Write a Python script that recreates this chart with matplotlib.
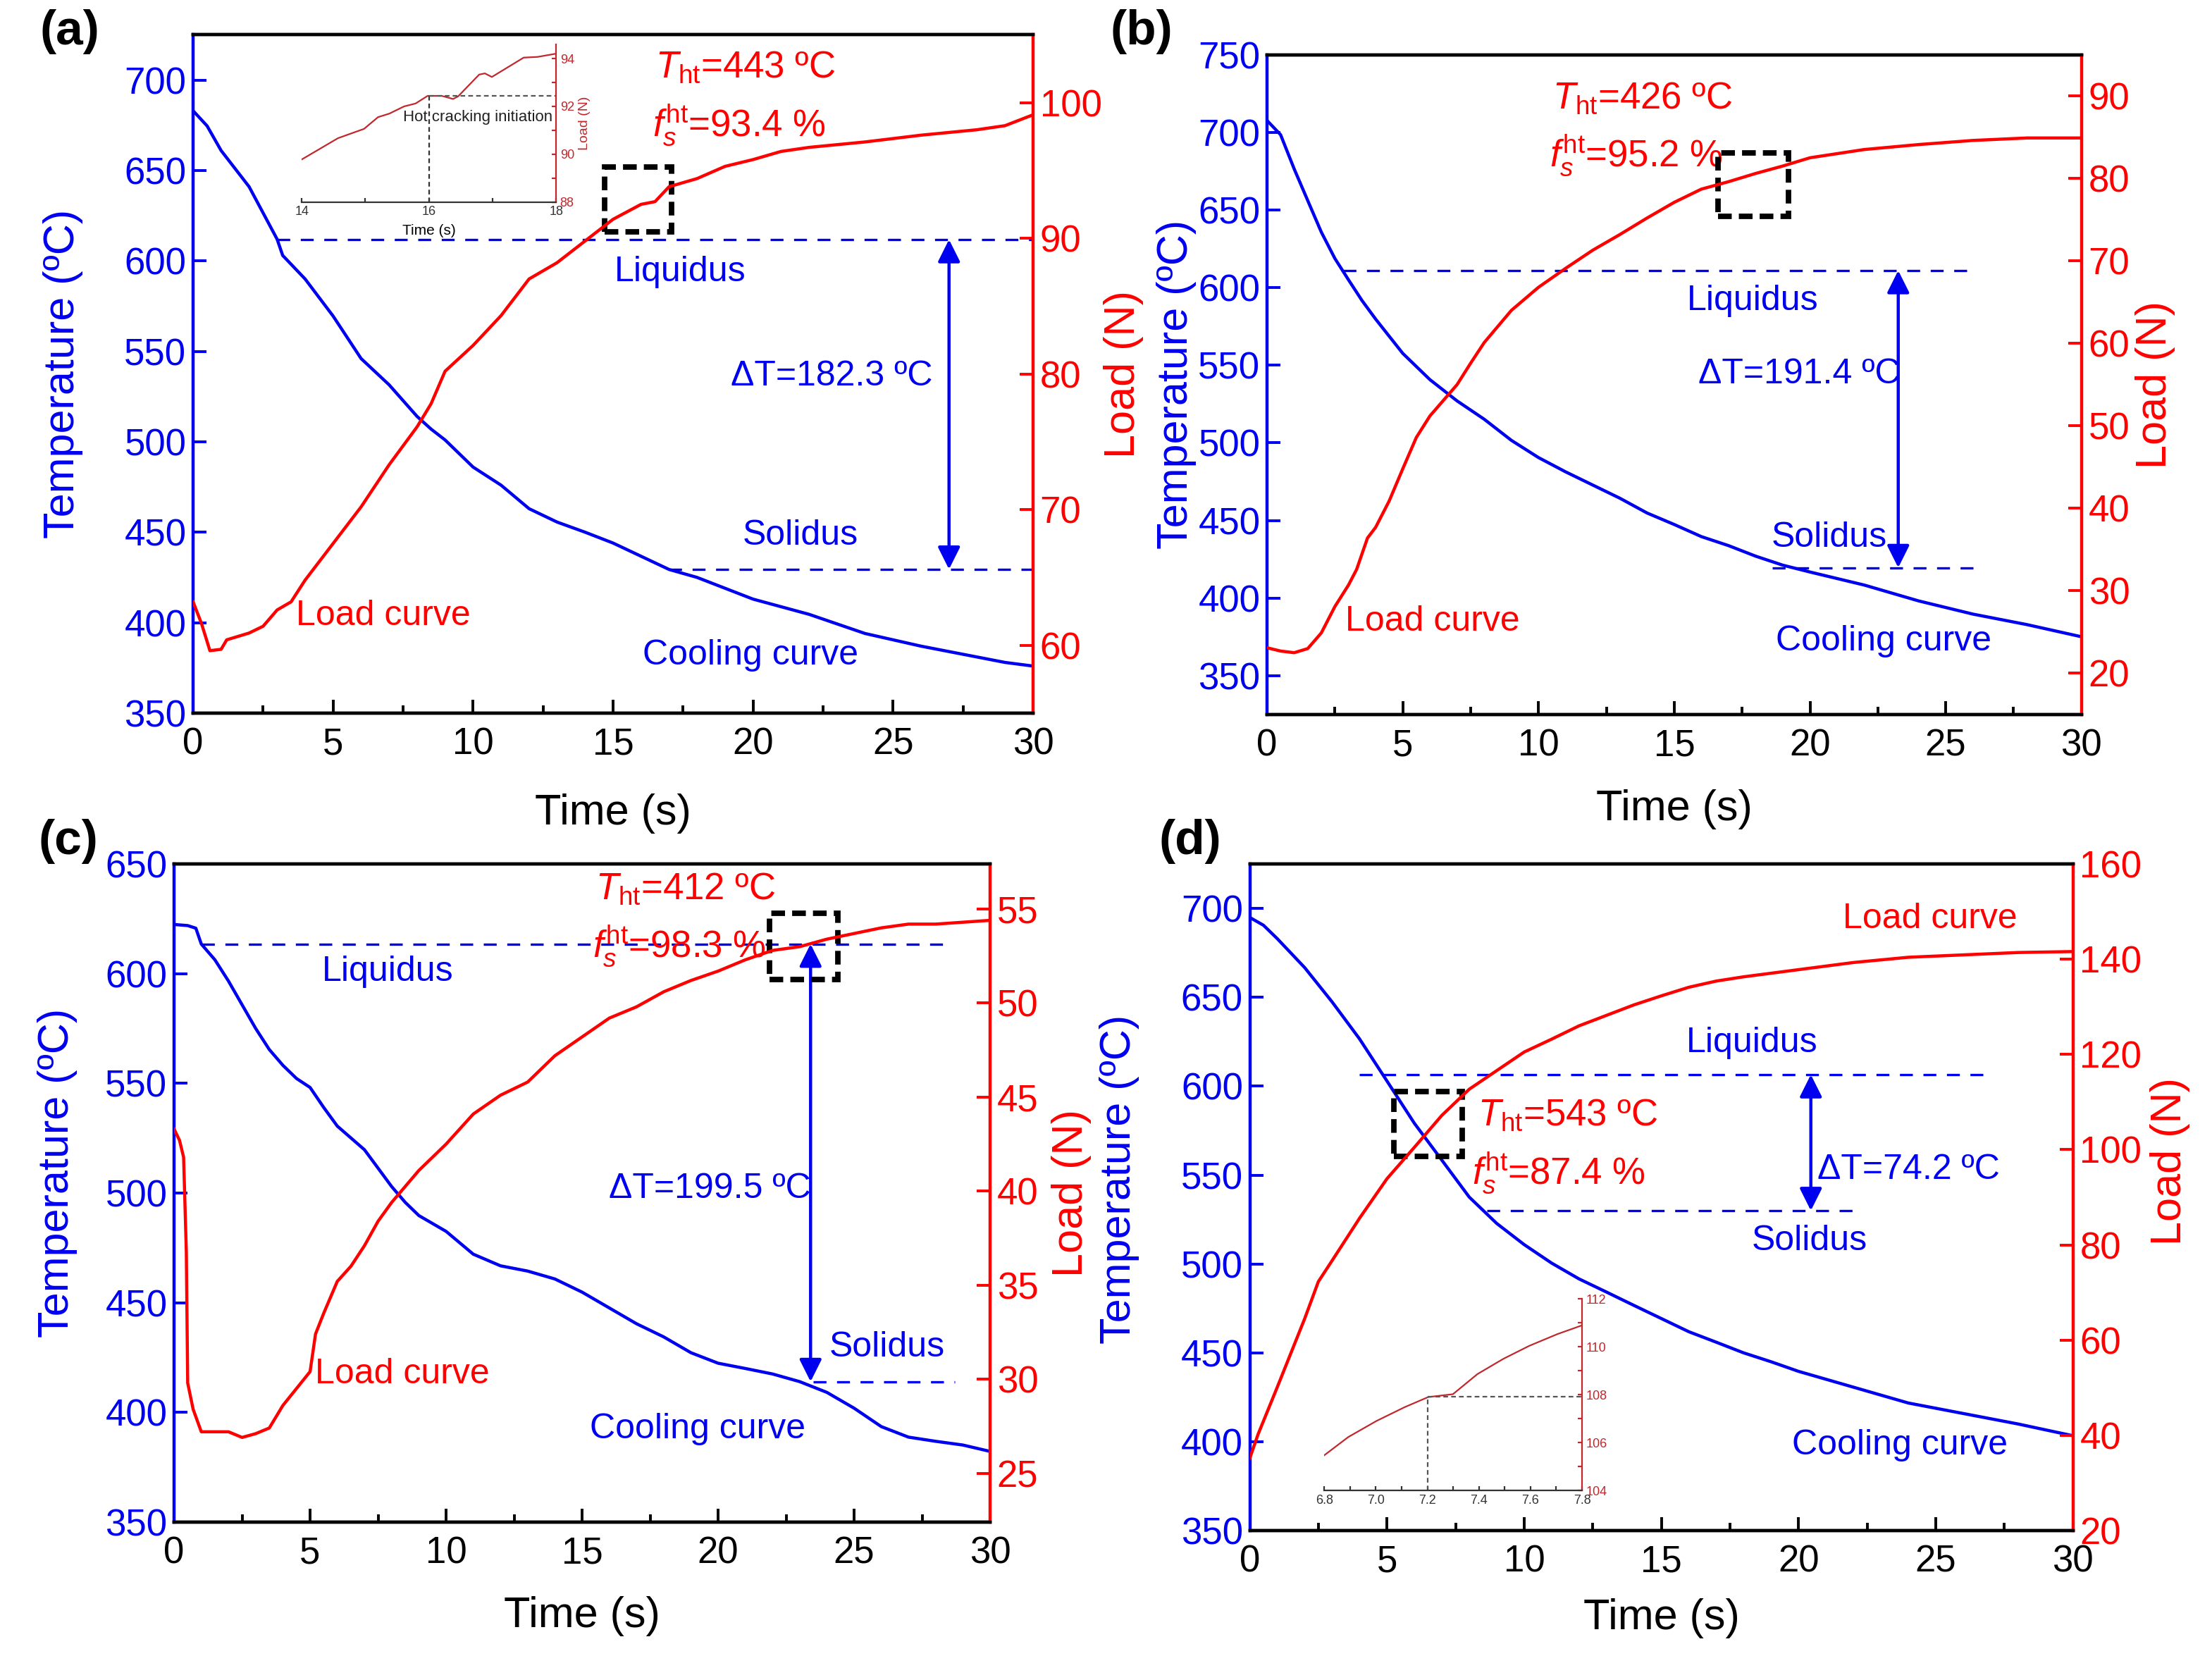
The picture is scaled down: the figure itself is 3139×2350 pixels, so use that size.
import matplotlib
matplotlib.use('Agg')
import matplotlib.pyplot as plt
from matplotlib.patches import Rectangle
from matplotlib.ticker import MultipleLocator

plt.rcParams['font.family'] = ['Liberation Sans', 'DejaVu Sans']
plt.rcParams['mathtext.fontset'] = 'custom'
plt.rcParams['mathtext.rm'] = 'Liberation Sans'
plt.rcParams['mathtext.it'] = 'Liberation Sans:italic'

# ---- panel (a) ----
a_t_temp = [0, 0.5, 1, 2, 3, 3.2, 4, 5, 6, 7, 8, 8.5, 9, 10, 11, 12, 13, 14, 15, 16, 17, 18, 20, 22, 24, 26, 28, 29, 30]
a_temp = [683, 674.6, 661, 641, 612, 603, 590, 569.5, 546, 531.5, 514, 507, 501, 486, 476, 463, 455.6, 450, 444,
          436.7, 429.4, 425, 413, 404.6, 394, 387, 381, 378, 376]
a_t_load = [0, 0.3, 0.6, 1.0, 1.2, 2, 2.5, 3, 3.5, 4, 5, 6, 7, 8, 8.5, 9, 10, 11, 12, 13, 14, 15, 16, 16.5, 17, 18,
            19, 20, 21, 22, 24, 26, 28, 29, 30]
a_load = [63.2, 61.6, 59.6, 59.7, 60.4, 60.9, 61.4, 62.6, 63.2, 64.8, 67.5, 70.2, 73.3, 76.1, 77.8, 80.2, 82.1, 84.3,
          87.0, 88.2, 89.8, 91.4, 92.5, 92.7, 93.8, 94.4, 95.3, 95.8, 96.4, 96.7, 97.1, 97.6, 98.0, 98.3, 99.1]
a_ins_t = [14.0, 14.57, 14.98, 15.2, 15.38, 15.61, 15.79, 15.98, 16.2, 16.38, 16.46, 16.79, 16.88, 16.99, 17.49, 17.71, 17.99]
a_ins_load = [89.78, 90.67, 91.06, 91.55, 91.70, 92.0, 92.12, 92.44, 92.44, 92.31, 92.42, 93.33, 93.38, 93.23, 94.04, 94.07, 94.2]

# ---- panel (b) ----
b_t_temp = [0, 0.5, 1, 1.5, 2, 2.5, 3, 3.5, 4, 5, 6, 7, 8, 9, 10, 11, 12, 13, 14, 15, 16, 17, 18, 19, 20, 22, 24, 26, 28, 30]
b_temp = [707.6, 698.4, 676.4, 656, 635.7, 618.7, 605, 591.6, 579.7, 557.6, 540.7, 527, 515.2, 501.6, 490.5, 481.3,
          472.8, 464.3, 454.8, 447.4, 439.6, 433.8, 427, 421.2, 416.8, 408.4, 398.2, 389.7, 382.9, 375.1]
b_t_load = [0, 0.5, 1, 1.5, 2, 2.5, 3, 3.3, 3.7, 4, 4.5, 5, 5.5, 6, 6.5, 7, 7.5, 8, 9, 10, 11, 12, 13, 14, 15, 16, 17,
            18, 19, 20, 22, 24, 26, 28, 30]
b_load = [23.1, 22.7, 22.5, 23.0, 24.9, 28.1, 30.7, 32.6, 36.4, 37.7, 40.9, 44.8, 48.6, 51.2, 53.1, 55.0, 57.6, 60.1,
          64.0, 66.8, 69.1, 71.3, 73.2, 75.2, 77.1, 78.7, 79.6, 80.6, 81.5, 82.5, 83.5, 84.1, 84.6, 84.9, 84.9]

# ---- panel (c) ----
c_t_temp = [0, 0.5, 0.8, 1, 1.5, 2, 2.5, 3, 3.5, 4, 4.5, 5, 5.5, 6, 7, 8, 8.5, 9, 10, 11, 12, 13, 14, 15, 16, 17, 18,
            19, 20, 21, 22, 23, 24, 25, 26, 27, 28, 29, 30]
c_temp = [622.4, 621.9, 620.7, 613.5, 606.3, 596.6, 585.8, 575, 565.4, 558.2, 552.2, 548.1, 539, 530.5, 519.7, 502.9,
          495.7, 489.7, 482.5, 472.1, 466.8, 464.4, 460.8, 454.8, 447.6, 440.4, 434.4, 427.2, 422.4, 420, 417.5, 414,
          409.1, 401.9, 393.5, 388.7, 386.8, 385.1, 382.2]
c_t_load = [0, 0.2, 0.35, 0.45, 0.5, 0.7, 1, 1.5, 2, 2.5, 3, 3.5, 4, 4.5, 5, 5.2, 5.5, 6, 6.5, 7, 7.5, 8, 9, 10, 11, 12,
            13, 14, 15, 16, 17, 18, 19, 20, 21, 22, 23, 24, 25, 26, 27, 28, 29, 30]
c_load = [43.3, 42.7, 41.8, 36.8, 29.8, 28.4, 27.2, 27.2, 27.2, 26.9, 27.1, 27.4, 28.6, 29.5, 30.4, 32.4, 33.5, 35.2,
          36.0, 37.1, 38.4, 39.4, 41.1, 42.5, 44.1, 45.1, 45.8, 47.2, 48.2, 49.2, 49.8, 50.6, 51.2, 51.7, 52.3, 52.8,
          53.0, 53.4, 53.7, 54.0, 54.2, 54.2, 54.3, 54.4]

# ---- panel (d) ----
d_t_temp = [0, 0.5, 1, 2, 3, 4, 5, 6, 7, 8, 9, 10, 11, 12, 13, 14, 15, 16, 17, 18, 19, 20, 22, 24, 26, 28, 30]
d_temp = [694.9, 690.5, 683, 666.7, 647.4, 626.6, 602.9, 579.1, 558.4, 537.6, 522.8, 510.9, 500.5, 491.6, 484.2,
          476.7, 469.3, 461.9, 456, 450, 445, 439.6, 430.7, 421.8, 415.9, 410, 403.4]
d_t_load = [0, 0.3, 1, 2, 2.5, 3, 4, 5, 6, 7, 8, 9, 10, 11, 12, 13, 14, 15, 16, 17, 18, 20, 22, 24, 26, 28, 30]
d_load = [35.2, 40.2, 50.1, 64.5, 72.3, 76.7, 85.6, 93.9, 100.5, 107.2, 112.7, 116.6, 120.5, 123.2, 126, 128.2,
          130.4, 132.3, 134.1, 135.4, 136.3, 137.8, 139.3, 140.4, 140.9, 141.4, 141.6]
d_ins_t = [6.8, 6.893, 7.002, 7.112, 7.203, 7.258, 7.299, 7.394, 7.495, 7.595, 7.704, 7.798]
d_ins_load = [105.47, 106.23, 106.9, 107.48, 107.9, 107.97, 108.02, 108.86, 109.5, 110.04, 110.53, 110.89]

BLUE = '#0000f0'
RED = '#ff0000'
DKRED = '#c0282d'
DASH = (0, (5.5, 4.5))

fig = plt.figure(figsize=(15.695, 11.75), dpi=200)


def panel(rect, t_temp, temp, t_load, load, tlim, tticks, llim, lticks, ylab_x, ylab2_x, xlab_y):
    ax = fig.add_axes(rect)
    ax2 = ax.twinx()
    ax.plot(t_temp, temp, color=BLUE, lw=1.6)
    ax2.plot(t_load, load, color=RED, lw=1.6)
    ax.set_xlim(0, 30)
    ax.set_ylim(*tlim)
    ax.set_yticks(tticks)
    ax2.set_ylim(*llim)
    ax2.set_yticks(lticks)
    ax.xaxis.set_major_locator(MultipleLocator(5))
    ax.xaxis.set_minor_locator(MultipleLocator(2.5))
    ax.tick_params(axis='x', which='major', direction='in', length=7, width=1.4, labelsize=19, pad=7)
    ax.tick_params(axis='x', which='minor', direction='in', length=4, width=1.4)
    ax.tick_params(axis='y', direction='in', length=7, width=1.4, colors=BLUE, labelsize=19)
    ax2.tick_params(axis='y', direction='in', length=7, width=1.4, colors=RED, labelsize=19)
    for a in (ax, ax2):
        for s in a.spines.values():
            s.set_linewidth(1.6)
    ax.spines['left'].set_color(BLUE)
    ax.spines['right'].set_visible(False)
    ax2.spines['left'].set_visible(False)
    ax2.spines['right'].set_color(RED)
    ax.set_xlabel('Time (s)', fontsize=22)
    ax.xaxis.set_label_coords(0.5, xlab_y)
    ax.set_ylabel('Temperature (ºC)', fontsize=22, color=BLUE)
    ax.yaxis.set_label_coords(ylab_x[0], ylab_x[1])
    ax2.set_ylabel('Load (N)', fontsize=22, color=RED)
    ax2.yaxis.set_label_coords(ylab2_x[0], ylab2_x[1])
    return ax, ax2


def marks(ax, liq, sol, arrow_t, box, texts, th, fs):
    ax.plot(liq[0], [liq[1], liq[1]], color=BLUE, lw=1.2, ls=DASH)
    ax.plot(sol[0], [sol[1], sol[1]], color=BLUE, lw=1.2, ls=DASH)
    ax.annotate('', xy=(arrow_t, sol[1]), xytext=(arrow_t, liq[1]),
                arrowprops=dict(arrowstyle='<|-|>', color=BLUE, lw=1.6, mutation_scale=24, shrinkA=0, shrinkB=0))
    ax.add_patch(Rectangle((box[0], box[2]), box[1] - box[0], box[3] - box[2], fill=False,
                           edgecolor='black', lw=2.8, ls=(0, (2.5, 1.3)), zorder=5))
    for s, x, y, c, ha in texts:
        ax.text(x, y, s, color=c, fontsize=18, ha=ha, va='center')
    ax.text(th[1], th[2], r'$T_{\mathrm{ht}}$=' + th[0] + ' ºC', color=RED, fontsize=19, ha='left', va='center')
    ax.text(fs[1], fs[2], r'$f_s^{\mathrm{ht}}$=' + fs[0] + ' %', color=RED, fontsize=19, ha='left', va='center')


# (a)
ax, ax2 = panel([0.0873, 0.5694, 0.3797, 0.4096], a_t_temp, a_temp, a_t_load, a_load,
                (350, 725), range(350, 701, 50), (55, 105), range(60, 101, 10),
                (-0.131, 0.5), (1.084, 0.5), -0.119)
marks(ax, ([3, 30], 611.8), ([17, 30], 429.5), 27.0, (14.7, 17.1, 616.2, 651.8),
      [('Liquidus', 17.4, 594, BLUE, 'center'), ('ΔT=182.3 ºC', 22.8, 536, BLUE, 'center'),
       ('Solidus', 21.7, 448, BLUE, 'center'), ('Load curve', 6.8, 403.6, RED, 'center'),
       ('Cooling curve', 19.9, 381.8, BLUE, 'center')],
      ('443', 16.5, 707), ('93.4', 16.4, 675))

ins = fig.add_axes([0.1364, 0.878, 0.115, 0.0953])
ins.patch.set_alpha(0)
ins.plot(a_ins_t, a_ins_load, color=DKRED, lw=0.8)
ins.plot([16, 16], [88, 92.44], color='#333333', lw=0.8, ls=(0, (3, 2)))
ins.plot([16, 18], [92.44, 92.44], color='#555555', lw=0.8, ls=(0, (3, 2)))
ins.text(16.77, 91.55, 'Hot cracking initiation', fontsize=8, ha='center', va='center', color='#222222')
ins.set_xlim(14, 18)
ins.set_ylim(88, 94.6)
ins.set_xticks([14, 16, 18])
ins.xaxis.set_minor_locator(MultipleLocator(1))
ins.set_yticks([88, 90, 92, 94])
ins.yaxis.set_minor_locator(MultipleLocator(1))
ins.yaxis.tick_right()
ins.yaxis.set_label_position('right')
ins.spines['left'].set_visible(False)
ins.spines['top'].set_visible(False)
ins.spines['right'].set_color(DKRED)
ins.spines['bottom'].set_color('#333333')
ins.tick_params(axis='x', which='both', direction='in', length=2, width=0.8, labelsize=6.5, pad=2, colors='#333333')
ins.tick_params(axis='y', which='both', direction='in', length=2, width=0.8, labelsize=6.5, pad=2, colors=DKRED)
ins.set_xlabel('Time (s)', fontsize=7.5, labelpad=3)
ins.set_ylabel('Load (N)', fontsize=7, color=DKRED, labelpad=2)

# (b)
ax, ax2 = panel([0.5728, 0.5685, 0.3682, 0.3985], b_t_temp, b_temp, b_t_load, b_load,
                (325, 750), range(350, 751, 50), (15, 95), range(20, 91, 10),
                (-0.0865, 0.5), (1.066, 0.5), -0.113)
marks(ax, ([2.8, 26], 611), ([18.6, 26], 419.6), 23.25, (16.6, 19.2, 645.8, 686.6),
      [('Liquidus', 17.9, 591.6, BLUE, 'center'), ('ΔT=191.4 ºC', 19.6, 544, BLUE, 'center'),
       ('Solidus', 20.7, 439, BLUE, 'center'), ('Load curve', 6.1, 385, RED, 'center'),
       ('Cooling curve', 22.7, 372, BLUE, 'center')],
      ('426', 10.5, 722), ('95.2', 10.4, 685))

# (c)
ax, ax2 = panel([0.0787, 0.0809, 0.3689, 0.3974], c_t_temp, c_temp, c_t_load, c_load,
                (350, 650), range(350, 651, 50), (22.4, 57.4), range(25, 56, 5),
                (-0.118, 0.53), (1.075, 0.5), -0.113)
marks(ax, ([1, 28.3], 613.5), ([23.5, 28.7], 414.0), 23.4, (21.9, 24.4, 597.4, 627.4),
      [('Liquidus', 7.85, 601, BLUE, 'center'), ('ΔT=199.5 ºC', 19.7, 502, BLUE, 'center'),
       ('Solidus', 26.2, 429.6, BLUE, 'center'), ('Load curve', 8.4, 417.5, RED, 'center'),
       ('Cooling curve', 19.25, 392.3, BLUE, 'center')],
      ('412', 15.5, 638.7), ('98.3', 15.4, 612.3))

# (d)
ax, ax2 = panel([0.565, 0.0757, 0.3721, 0.4026], d_t_temp, d_temp, d_t_load, d_load,
                (350, 725), range(350, 701, 50), (20, 160), range(20, 161, 20),
                (-0.1336, 0.527), (1.094, 0.554), -0.101)
marks(ax, ([4.0, 27.1], 606.5), ([8.65, 22.3], 530), 20.45, (5.26, 7.75, 560.7, 597),
      [('Liquidus', 18.3, 624.3, BLUE, 'center'), ('ΔT=74.2 ºC', 20.7, 553, BLUE, 'left'),
       ('Solidus', 20.4, 513, BLUE, 'center'), ('Load curve', 24.8, 694, RED, 'center'),
       ('Cooling curve', 23.7, 398, BLUE, 'center')],
      ('543', 8.3, 583.6), ('87.4', 8.1, 551))

ins = fig.add_axes([0.5987, 0.1, 0.1165, 0.1156])
ins.patch.set_alpha(0)
ins.plot(d_ins_t, d_ins_load, color=DKRED, lw=0.8)
ins.plot([7.2, 7.2], [104, 107.93], color='#555555', lw=0.8, ls=(0, (3, 2)))
ins.plot([7.2, 7.8], [107.93, 107.93], color='#555555', lw=0.8, ls=(0, (3, 2)))
ins.set_xlim(6.8, 7.8)
ins.set_ylim(104, 112)
ins.set_xticks([6.8, 7.0, 7.2, 7.4, 7.6, 7.8])
ins.set_xticklabels(['6.8', '7.0', '7.2', '7.4', '7.6', '7.8'])
ins.xaxis.set_minor_locator(MultipleLocator(0.1))
ins.set_yticks([104, 106, 108, 110, 112])
ins.yaxis.set_minor_locator(MultipleLocator(1))
ins.yaxis.tick_right()
ins.spines['left'].set_visible(False)
ins.spines['top'].set_visible(False)
ins.spines['right'].set_color(DKRED)
ins.spines['bottom'].set_color('#333333')
ins.tick_params(axis='x', which='both', direction='in', length=2, width=0.8, labelsize=6.5, pad=2, colors='#333333')
ins.tick_params(axis='y', which='both', direction='in', length=2, width=0.8, labelsize=6.5, pad=2, colors=DKRED)

for s, x, y in [('(a)', 0.0316, 0.981), ('(b)', 0.516, 0.981), ('(c)', 0.031, 0.492), ('(d)', 0.538, 0.492)]:
    fig.text(x, y, s, fontsize=25, fontweight='bold', ha='center', va='center')

fig.savefig('out.png', dpi=200)
